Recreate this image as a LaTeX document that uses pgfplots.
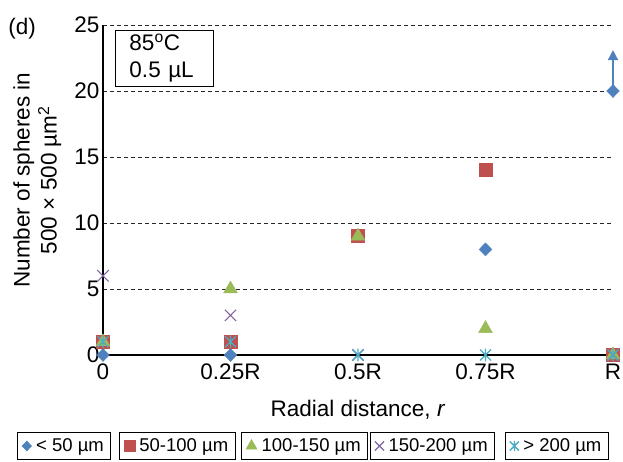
\documentclass[border=0pt]{standalone}
\usepackage{pgfplots}
\pgfplotsset{compat=1.18}
\usepackage{fontspec}
\setmainfont{Liberation Sans}
\usetikzlibrary{arrows.meta}
\definecolor{cblue}{HTML}{4F81BD}
\definecolor{cred}{HTML}{C0504D}
\definecolor{cgreen}{HTML}{9BBB59}
\definecolor{cpurple}{HTML}{8064A2}
\definecolor{ccyan}{HTML}{4BACC6}
\newcommand{\bigf}{\fontsize{22.5}{27}\selectfont}
\newcommand{\legf}{\fontsize{18.5}{22}\selectfont}
\pgfdeclareplotmark{xbar}{%
  \pgfpathmoveto{\pgfqpoint{-\pgfplotmarksize}{-\pgfplotmarksize}}%
  \pgfpathlineto{\pgfqpoint{\pgfplotmarksize}{\pgfplotmarksize}}%
  \pgfpathmoveto{\pgfqpoint{-\pgfplotmarksize}{\pgfplotmarksize}}%
  \pgfpathlineto{\pgfqpoint{\pgfplotmarksize}{-\pgfplotmarksize}}%
  \pgfpathmoveto{\pgfqpoint{0pt}{-1.15\pgfplotmarksize}}%
  \pgfpathlineto{\pgfqpoint{0pt}{1.15\pgfplotmarksize}}%
  \pgfusepathqstroke}
\pgfplotsset{
  sBlue/.style={only marks, mark=diamond*, color=cblue, mark options={xscale=1.3, line width=0.4pt}},
  sRed/.style={only marks, mark=square*, color=cred, mark options={line width=0.4pt}},
  sGreen/.style={only marks, mark=triangle*, color=cgreen, mark options={line width=0.4pt}},
  sPurple/.style={only marks, mark=x, color=cpurple, mark options={line width=1.1pt}},
  sCyan/.style={only marks, mark=xbar, color=ccyan, mark options={line width=1.3pt}},
}
\newcommand{\legbox}[3]{%
\begin{axis}[at={(#1pt,16pt)}, anchor=west, scale only axis, width=1pt, height=1pt,
  hide axis, xmin=0, xmax=1, ymin=0, ymax=1,
  legend style={at={(0,0.5)}, anchor=west, draw=black, line width=0.8pt, font=\legf,
    inner xsep=4.5pt, inner ysep=3.5pt, column sep=2pt,
    nodes={inner xsep=2.5pt, inner ysep=2.5pt}}]
\addlegendimage{#2}
\addlegendentry{#3}
\end{axis}}
\begin{document}
\begin{tikzpicture}
\useasboundingbox (0pt,0pt) rectangle (623pt,462pt);
\begin{axis}[
  at={(103pt,107pt)}, anchor=south west,
  scale only axis, width=510pt, height=330pt,
  xmin=0, xmax=1, ymin=0, ymax=25,
  axis lines=left,
  axis line style={-, line width=1.6pt, black},
  clip=false,
  xtick={0,0.25,0.5,0.75,1},
  xticklabels={0,0.25R,0.5R,0.75R,R},
  ytick={0,5,10,15,20,25},
  major tick length=0pt,
  ymajorgrids,
  grid style={black!85, line width=0.8pt, dash pattern=on 4pt off 3pt},
  tick label style={font=\bigf},
  xticklabel style={yshift=-5pt},
  /pgf/number format/assume math mode=true,
  xlabel={Radial distance, \textit{r}},
  xlabel style={font=\bigf, at={(axis description cs:0.5,0)}, anchor=base, yshift=-62pt},
  ylabel={Number of spheres in\\500 × 500 µm\textsuperscript{2}},
  ylabel style={font=\bigf, align=center, at={(axis description cs:-0.129,0.53)}, anchor=center},
]
\addplot[cblue, line width=1.6pt, -{Triangle[length=10pt,width=10pt]}] coordinates {(1,20.3) (1,23.1)};
\addplot[sBlue, mark size=6.5pt] coordinates {(0,0) (0.25,0) (0.75,8) (1,20)};
\addplot[sRed, mark size=6.5pt] coordinates {(0,1) (0.25,1) (0.5,9) (0.75,14) (1,0)};
\addplot[sGreen, mark size=8pt] coordinates {(0,1) (0.25,5) (0.5,9) (0.75,2) (1,0)};
\addplot[sPurple, mark size=8pt] coordinates {(0,6) (0.25,3) (0.5,0) (1,0)};
\addplot[sCyan, mark size=5.5pt] coordinates {(0,1) (0.25,1) (0.5,0) (0.75,0) (1,0)};
\node[anchor=north west, inner sep=0pt, font=\bigf] at (axis description cs:-0.186,1.021) {(d)};
\node[anchor=north west, draw=black, line width=1pt, font=\bigf, align=left,
  inner xsep=14pt, inner ysep=4pt, text width=70pt] at (axis description cs:0.0235,0.985)
  {85\textsuperscript{o}C\\0.5 µL};
\end{axis}
\legbox{17}{sBlue, mark size=5pt}{< 50 µm}
\legbox{119}{sRed, mark size=5.5pt}{50-100 µm}
\legbox{241}{sGreen, mark size=6.5pt}{100-150 µm}
\legbox{370}{sPurple, mark size=6.5pt}{150-200 µm}
\legbox{505}{sCyan, mark size=4.5pt}{> 200 µm}
\end{tikzpicture}
\end{document}
